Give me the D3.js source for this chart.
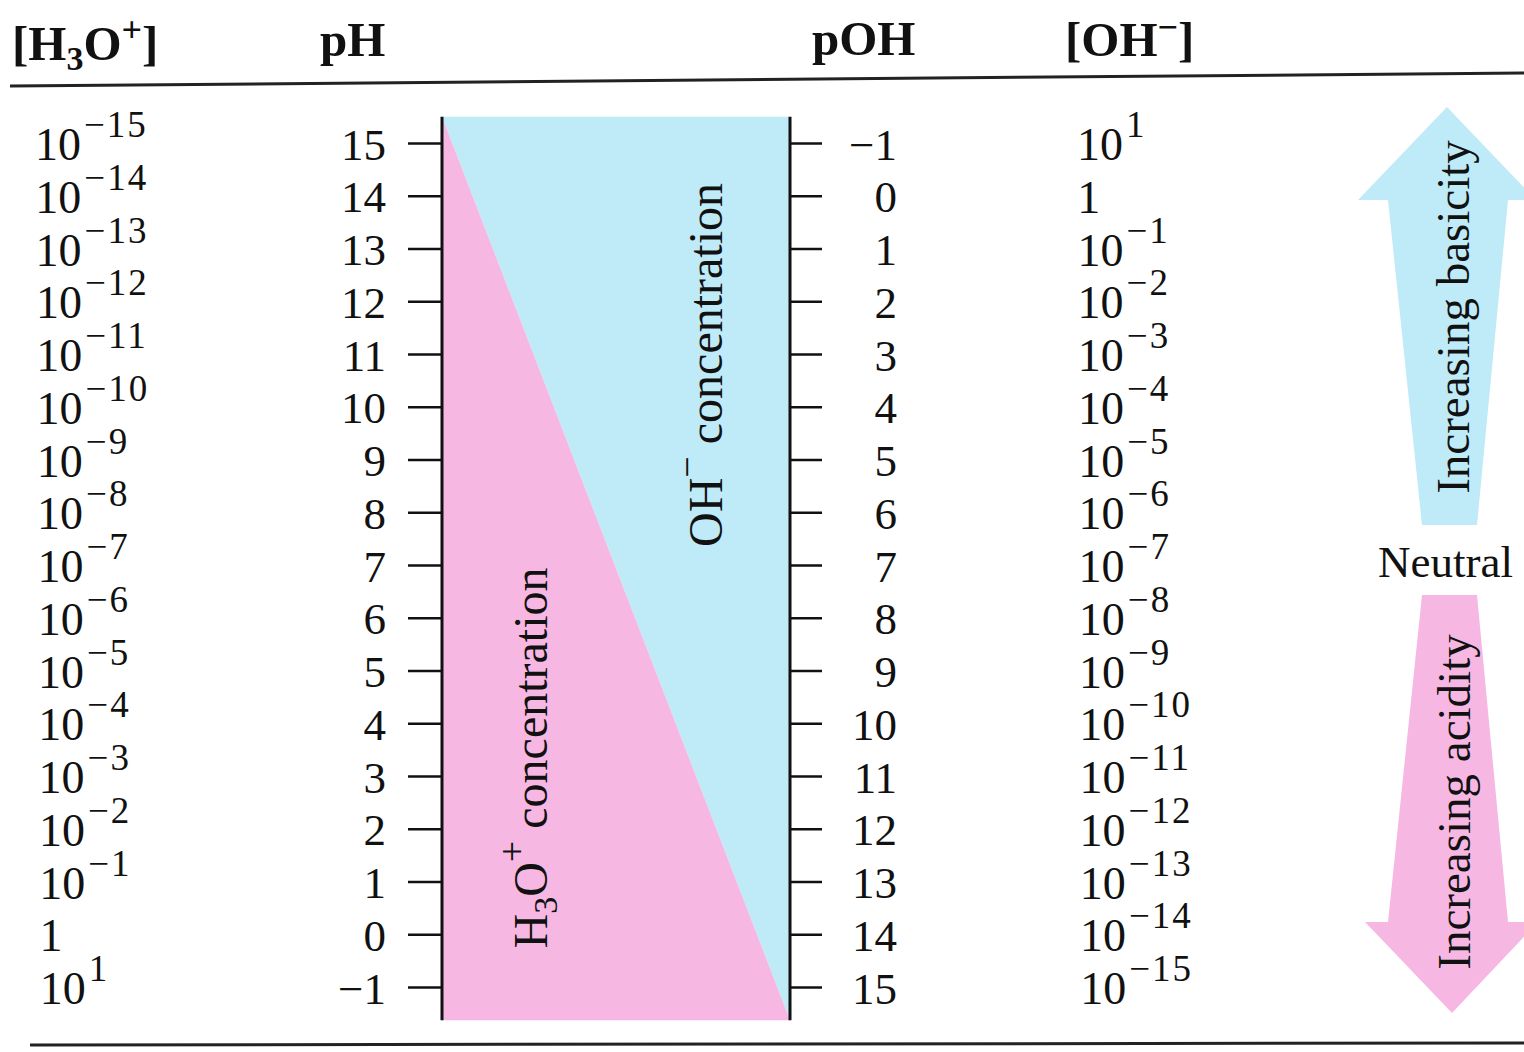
<!DOCTYPE html>
<html>
<head>
<meta charset="utf-8">
<script src="https://cdn.jsdelivr.net/npm/d3@7"></script>
<style>
  body { margin: 0; background: #fff; }
  svg { display: block; font-family: "Liberation Serif", "Times New Roman", serif; }
  .tick text { font-size: 45px; fill: #111; }
</style>
</head>
<body>
<svg id="chart" width="1524" height="1052"></svg>
<script>
// pH / pOH scale values, top to bottom
const phTicks = [15, 14, 13, 12, 11, 10, 9, 8, 7, 6, 5, 4, 3, 2, 1, 0, -1];
const pohTicks = [-1, 0, 1, 2, 3, 4, 5, 6, 7, 8, 9, 10, 11, 12, 13, 14, 15];
const h3oExponents = [-15, -14, -13, -12, -11, -10, -9, -8, -7, -6, -5, -4, -3, -2, -1, 0, 1];
const ohExponents = [1, 0, -1, -2, -3, -4, -5, -6, -7, -8, -9, -10, -11, -12, -13, -14, -15];
const headers = ['[H3O+]', 'pH', 'pOH', '[OH−]'];
const bandTop = 15.5, bandBottom = -1.63;

const pink = '#f6b8e3';
const blue = '#bfeaf8';
const ink = '#111';

const svg = d3.select('#chart');

const y = d3.scaleLinear().domain([15, -1]).range([143, 987]);
const yOH = d3.scaleLinear().domain([-1, 15]).range([143, 987]);
const x = d3.scaleLinear().domain([0, 1]).range([442, 790]);

const minus = v => v < 0 ? '\u2212' + (-v) : String(v);

// header
const head = svg.append('g').attr('font-weight', 'bold').attr('font-size', 49).attr('fill', ink);
const h0 = head.append('text').attr('x', 12).attr('y', 60);
h0.append('tspan').text('[H');
h0.append('tspan').attr('font-size', 34).attr('dy', 10).text('3');
h0.append('tspan').attr('dy', -10).text('O');
h0.append('tspan').attr('font-size', 36).attr('dy', -18).text('+');
h0.append('tspan').attr('dy', 18).text(']');
head.append('text').attr('x', 320).attr('y', 56).text(headers[1]);
head.append('text').attr('x', 812).attr('y', 55).text(headers[2]);
const h3 = head.append('text').attr('x', 1065).attr('y', 56);
h3.append('tspan').text('[OH');
h3.append('tspan').attr('font-size', 36).attr('dy', -17).text('\u2212');
h3.append('tspan').attr('dy', 17).text(']');

svg.append('line').attr('x1', 10).attr('x2', 1524).attr('y1', 86).attr('y2', 73)
  .attr('stroke', '#222').attr('stroke-width', 3);
svg.append('line').attr('x1', 30).attr('x2', 1524).attr('y1', 1045).attr('y2', 1043)
  .attr('stroke', '#222').attr('stroke-width', 3);

// coloured band: H3O+ below the diagonal, OH- above
const area = d3.line().x(d => x(d[0])).y(d => y(d[1]));
svg.append('path')
  .attr('d', area([[0, bandTop], [1, bandTop], [1, bandBottom]]) + 'Z')
  .attr('fill', blue);
svg.append('path')
  .attr('d', area([[0, bandTop], [1, bandBottom], [0, bandBottom]]) + 'Z')
  .attr('fill', pink);

[0, 1].forEach(v => {
  svg.append('line')
    .attr('x1', x(v)).attr('x2', x(v))
    .attr('y1', y(bandTop)).attr('y2', y(bandBottom))
    .attr('stroke', ink).attr('stroke-width', 3);
});

// pH axis
svg.append('g')
  .attr('transform', `translate(${x(0)},0)`)
  .call(d3.axisLeft(y).tickValues(phTicks).tickSize(34).tickPadding(22).tickFormat(minus))
  .attr('font-family', null).attr('font-size', null)
  .call(g => g.select('.domain').remove())
  .call(g => g.selectAll('.tick line').attr('stroke', ink).attr('stroke-width', 2.5))
  .call(g => g.selectAll('.tick text').attr('dy', '0.36em'));

// pOH axis
svg.append('g')
  .attr('transform', `translate(${x(1)},0)`)
  .call(d3.axisRight(yOH).tickValues(pohTicks).tickSize(32).tickFormat(minus))
  .attr('font-family', null).attr('font-size', null)
  .call(g => g.select('.domain').remove())
  .call(g => g.selectAll('.tick line').attr('stroke', ink).attr('stroke-width', 2.5))
  .call(g => g.selectAll('.tick text').attr('dy', '0.36em')
    .attr('x', 107).attr('text-anchor', 'end'));

// concentration columns
function powerLabel(g, xPos, yPos, e) {
  const t = g.append('text').attr('x', xPos).attr('y', yPos + 17)
    .attr('font-size', 46).attr('fill', ink);
  if (e === 0) { t.text('1'); return; }
  t.append('tspan').text('10');
  t.append('tspan').attr('font-size', 37).attr('dx', 3).attr('dy', -23)
    .attr('letter-spacing', 2).text(minus(e));
}
const colL = svg.append('g');
h3oExponents.forEach((e, i) => powerLabel(colL, 35 + i * 0.3, y(phTicks[i]), e));
const colR = svg.append('g');
ohExponents.forEach((e, i) => powerLabel(colR, 1077 + i * 0.2, yOH(pohTicks[i]), e));

// rotated labels inside the band
function vLabel(cx, cy, parts) {
  const t = svg.append('text')
    .attr('transform', `translate(${cx},${cy}) rotate(-90)`)
    .attr('text-anchor', 'middle').attr('font-size', 48).attr('fill', ink);
  parts.forEach(p => {
    const s = t.append('tspan').text(p.t);
    if (p.sub) s.attr('font-size', 34).attr('dy', 10);
    if (p.sup) s.attr('font-size', 38).attr('dy', -22);
    if (p.back) s.attr('dy', p.back);
  });
}
vLabel(722, 365, [{ t: 'OH' }, { t: '\u2212', sup: true }, { t: '  concentration', back: 22 }]);
vLabel(547, 758, [{ t: 'H' }, { t: '3', sub: true }, { t: 'O', back: -10 }, { t: '+', sup: true }, { t: '  concentration', back: 22 }]);

// direction arrows
const arrowUp = [[1447, 107], [1536, 200], [1508, 200], [1477, 525], [1422, 525], [1388, 200], [1358, 200]];
const arrowDown = [[1422, 595], [1477, 595], [1508, 922], [1538, 922], [1452, 1013], [1365, 922], [1388, 922]];
svg.append('path').attr('d', d3.line()(arrowUp) + 'Z').attr('fill', blue);
svg.append('path').attr('d', d3.line()(arrowDown) + 'Z').attr('fill', pink);

svg.append('text').attr('transform', 'translate(1469,317) rotate(-90)')
  .attr('text-anchor', 'middle').attr('font-size', 47).attr('fill', ink).text('Increasing basicity');
svg.append('text').attr('transform', 'translate(1470,802) rotate(-90)')
  .attr('text-anchor', 'middle').attr('font-size', 47).attr('fill', ink).text('Increasing acidity');
svg.append('text').attr('x', 1378).attr('y', 577)
  .attr('font-size', 45).attr('fill', ink).text('Neutral');
</script>
</body>
</html>
